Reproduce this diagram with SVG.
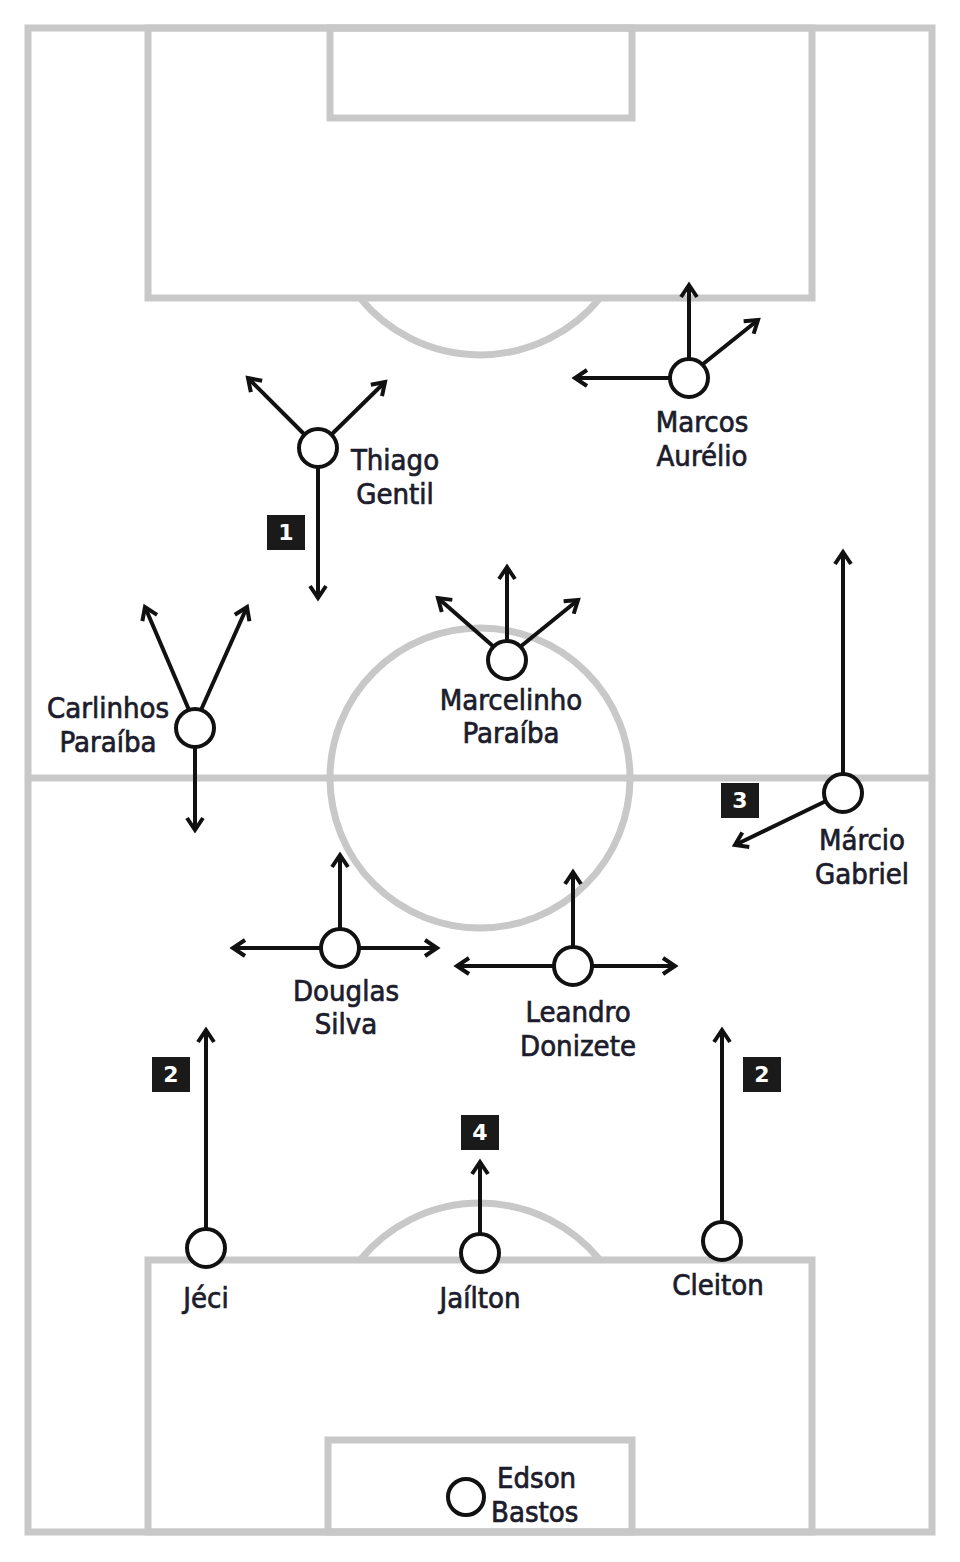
<svg xmlns="http://www.w3.org/2000/svg" width="960" height="1562" viewBox="0 0 960 1562">
<defs>
<marker id="ah" viewBox="0 0 20 20" refX="16" refY="10" markerWidth="20" markerHeight="20" markerUnits="userSpaceOnUse" orient="auto">
<path d="M4,2 L16,10 L4,18" fill="none" stroke="#111" stroke-width="4"/>
</marker>
</defs>
<style>
.f{fill:none;stroke:#c8c8c8;stroke-width:7}
.a{stroke:#111;stroke-width:4;fill:none;marker-end:url(#ah)}
.p{fill:#fff;stroke:#111;stroke-width:4}
.t{font-family:"DejaVu Sans Condensed","DejaVu Sans",sans-serif;font-size:29px;fill:#1c1c2c;stroke:#1c1c2c;stroke-width:0.7;text-anchor:middle}
.b{fill:#1a1a1a}
.n{font-family:"DejaVu Sans",sans-serif;font-weight:bold;font-size:22px;fill:#fff;text-anchor:middle}
</style>
<rect width="960" height="1562" fill="#fff"/>
<g id="field">
<rect class="f" x="28" y="28" width="904" height="1504"/>
<rect class="f" x="148" y="28" width="664" height="270"/>
<rect class="f" x="330" y="28" width="302" height="90"/>
<path class="f" d="M360,298 A155,155 0 0 0 600,298"/>
<line class="f" x1="28" y1="778" x2="932" y2="778"/>
<circle class="f" cx="480" cy="778" r="150"/>
<rect class="f" x="148" y="1260" width="664" height="272"/>
<rect class="f" x="328" y="1440" width="304" height="92"/>
<path class="f" d="M360,1260 A155,155 0 0 1 600,1260"/>
</g>
<g id="connectors">
<line class="a" x1="304" y1="434" x2="248" y2="378"/>
<line class="a" x1="332" y1="434" x2="385" y2="382"/>
<line class="a" x1="318" y1="467" x2="318" y2="598"/>
<line class="a" x1="689" y1="359" x2="689" y2="285"/>
<line class="a" x1="703" y1="364" x2="758" y2="320"/>
<line class="a" x1="670" y1="378" x2="575" y2="378"/>
<line class="a" x1="189" y1="710" x2="145" y2="607"/>
<line class="a" x1="201" y1="710" x2="247" y2="607"/>
<line class="a" x1="195" y1="747" x2="195" y2="830"/>
<line class="a" x1="507" y1="641" x2="507" y2="567"/>
<line class="a" x1="494" y1="647" x2="438" y2="598"/>
<line class="a" x1="520" y1="647" x2="578" y2="600"/>
<line class="a" x1="843" y1="774" x2="843" y2="552"/>
<line class="a" x1="826" y1="801" x2="735" y2="845"/>
<line class="a" x1="340" y1="929" x2="340" y2="855"/>
<line class="a" x1="321" y1="948" x2="233" y2="948"/>
<line class="a" x1="359" y1="948" x2="437" y2="948"/>
<line class="a" x1="573" y1="947" x2="573" y2="872"/>
<line class="a" x1="554" y1="966" x2="457" y2="966"/>
<line class="a" x1="592" y1="966" x2="675" y2="966"/>
<line class="a" x1="206" y1="1229" x2="206" y2="1030"/>
<line class="a" x1="480" y1="1234" x2="480" y2="1162"/>
<line class="a" x1="722" y1="1222" x2="722" y2="1030"/>
</g>
<g id="badges">
<rect class="b" x="267" y="515" width="38" height="35"/><text class="n" x="286" y="540">1</text>
<rect class="b" x="721" y="783" width="38" height="35"/><text class="n" x="740" y="808">3</text>
<rect class="b" x="152" y="1057" width="38" height="35"/><text class="n" x="171" y="1082">2</text>
<rect class="b" x="743" y="1057" width="38" height="35"/><text class="n" x="762" y="1082">2</text>
<rect class="b" x="461" y="1115" width="38" height="35"/><text class="n" x="480" y="1140">4</text>
</g>
<g id="thiago"><circle class="p" cx="318" cy="448" r="19"/><text class="t" x="395" y="470">Thiago</text><text class="t" x="395" y="504">Gentil</text></g>
<g id="marcos"><circle class="p" cx="689" cy="378" r="19"/><text class="t" x="702" y="432">Marcos</text><text class="t" x="702" y="466">Aurélio</text></g>
<g id="carlinhos"><circle class="p" cx="195" cy="728" r="19"/><text class="t" x="108" y="718">Carlinhos</text><text class="t" x="108" y="752">Paraíba</text></g>
<g id="marcelinho"><circle class="p" cx="507" cy="660" r="19"/><text class="t" x="511" y="710">Marcelinho</text><text class="t" x="511" y="743">Paraíba</text></g>
<g id="marcio"><circle class="p" cx="843" cy="793" r="19"/><text class="t" x="862" y="850">Márcio</text><text class="t" x="862" y="884">Gabriel</text></g>
<g id="douglas"><circle class="p" cx="340" cy="948" r="19"/><text class="t" x="346" y="1001">Douglas</text><text class="t" x="346" y="1034">Silva</text></g>
<g id="leandro"><circle class="p" cx="573" cy="966" r="19"/><text class="t" x="578" y="1022">Leandro</text><text class="t" x="578" y="1056">Donizete</text></g>
<g id="jeci"><circle class="p" cx="206" cy="1248" r="19"/><text class="t" x="206" y="1308">Jéci</text></g>
<g id="jailton"><circle class="p" cx="480" cy="1253" r="19"/><text class="t" x="480" y="1308">Jaílton</text></g>
<g id="cleiton"><circle class="p" cx="722" cy="1241" r="19"/><text class="t" x="718" y="1295">Cleiton</text></g>
<g id="edson"><circle class="p" cx="466" cy="1497" r="18"/><text class="t" x="497" y="1488" style="text-anchor:start">Edson</text><text class="t" x="491" y="1522" style="text-anchor:start">Bastos</text></g>
</svg>
